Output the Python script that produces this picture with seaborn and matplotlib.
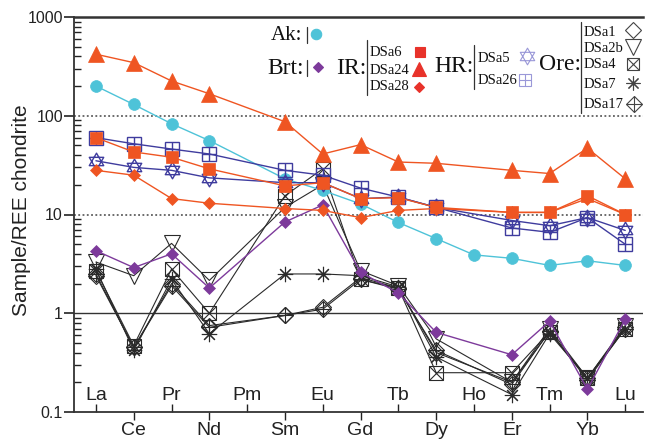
import numpy as np
import pandas as pd
import seaborn as sns
import matplotlib
matplotlib.use("Agg")
import matplotlib.pyplot as plt
from matplotlib.lines import Line2D
from matplotlib.path import Path
from matplotlib.ticker import LogLocator, NullFormatter

sns.set_theme(style="ticks")
plt.rcParams['font.family'] = ['Liberation Sans', 'DejaVu Sans']

nan = np.nan
elements = ['La', 'Ce', 'Pr', 'Nd', 'Pm', 'Sm', 'Eu', 'Gd', 'Tb', 'Dy', 'Ho', 'Er', 'Tm', 'Yb', 'Lu']

# chondrite-normalised values, NaN = not analysed
ak    = [200, 130, 83, 56, nan, 23, 17.5, 12.8, 8.3, 5.7, 3.9, 3.6, 3.05, 3.4, 3.05]
brt   = [4.3, 2.9, 4.0, 1.8, nan, 8.4, 12.5, 2.6, 1.6, 0.64, nan, 0.38, 0.83, 0.17, 0.87]
dsa6  = [60, 43, 38, 29, nan, 19.5, 21, 14.5, 14.8, 11.8, nan, 10.5, 10.5, 15.5, 10]
dsa24 = [420, 345, 225, 167, nan, 87, 41, 51, 34, 33, nan, 28, 26, 47, 23]
dsa28 = [28, 25, 14.5, 13, nan, 11.5, 11, 9.3, 11, 11.5, nan, 10.5, 10.5, 14.5, 10]
dsa5  = [35, 30, 28, 23.5, nan, 21, 21, 14.5, 15, 11.8, nan, 8.7, 7.7, 9.3, 6.9]
dsa26 = [60, 52, 46, 41, nan, 28, 25, 18.5, 15, 11.8, nan, 7.3, 6.6, 9.3, 5.0]
dsa1  = [2.4, 0.45, 2.0, 0.75, nan, 0.95, 1.15, 2.3, 1.8, 0.4, nan, 0.2, 0.65, 0.22, 0.72]
dsa2b = [3.3, 2.4, 5.1, 2.15, nan, 11.8, 20, 2.7, 1.9, 0.55, nan, 0.2, 0.7, 0.22, 0.75]
dsa4  = [2.7, 0.47, 2.8, 1.0, nan, 15.5, 29, 2.2, 1.8, 0.25, nan, 0.25, 0.65, 0.22, 0.7]
dsa7  = [2.8, 0.42, 2.2, 0.62, nan, 2.5, 2.5, 2.4, 1.85, 0.36, nan, 0.15, 0.62, 0.22, 0.7]
dsa17 = [2.5, 0.45, 1.9, 0.72, nan, 0.95, 1.1, 2.2, 1.75, 0.42, nan, 0.19, 0.66, 0.21, 0.7]

c_ak, c_brt, c_ir, c_hr, c_ore = '#4EC3D8', '#7D3A9B', '#EF5522', '#3F3C9E', '#2a2a2a'

hexagram = Path([(0, 1), (-0.866, -0.5), (0.866, -0.5), (0, 1),
                 (0, -1), (-0.866, 0.5), (0.866, 0.5), (0, -1)],
                [Path.MOVETO, Path.LINETO, Path.LINETO, Path.CLOSEPOLY,
                 Path.MOVETO, Path.LINETO, Path.LINETO, Path.CLOSEPOLY])

fig = plt.figure(figsize=(6.45, 4.44), dpi=100)
ax = fig.add_axes([74 / 645, 1 - 412 / 444, 569 / 645, 395 / 444])

ax.axhline(100, color='#444', lw=1.1, ls=(0, (1.2, 1.6)), zorder=1)
ax.axhline(10, color='#444', lw=1.1, ls=(0, (1.2, 1.6)), zorder=1)
ax.axhline(1, color='#333', lw=1.0, zorder=1)

xpos = np.arange(len(elements))


def draw(vals, color, marker, ms, filled=True, mew=1.0, lw=1.0, extra=None, extra_ms=None):
    d = pd.DataFrame({'x': xpos, 'y': vals}).dropna()
    sns.lineplot(data=d, x='x', y='y', ax=ax, color=color, lw=lw, marker=marker, ms=ms,
                 mfc=color if filled else 'none', mec=color, mew=mew,
                 estimator=None, errorbar=None, zorder=3)
    if extra is not None:
        sns.lineplot(data=d, x='x', y='y', ax=ax, color=color, ls='none', marker=extra,
                     ms=extra_ms or ms, mec=color, mew=mew,
                     estimator=None, errorbar=None, zorder=3)


# ore samples
draw(dsa1, c_ore, 'D', 8.5, filled=False, mew=0.8, lw=0.8)
draw(dsa17, c_ore, 'D', 8.5, filled=False, mew=0.8, lw=0.8, extra='+', extra_ms=12)
draw(dsa2b, c_ore, 'v', 12, filled=False, mew=0.8, lw=0.8)
draw(dsa4, c_ore, 's', 10, filled=False, mew=0.8, lw=0.8, extra='x', extra_ms=10)
draw(dsa7, c_ore, (8, 2, 0), 11, filled=False, mew=0.8, lw=0.8)
# barite and akaganeite-type
draw(brt, c_brt, 'D', 6.5, mew=0.5)
draw(ak, c_ak, 'o', 8.5, mew=0.5)
# HR
draw(dsa5, c_hr, hexagram, 12, filled=False, mew=1.0)
draw(dsa26, c_hr, 's', 9.5, filled=False, mew=1.0, extra='+', extra_ms=9.5)
# IR
draw(dsa28, c_ir, 'D', 6.5, mew=0.5)
draw(dsa6, c_ir, 's', 9, mew=0.5)
draw(dsa24, c_ir, '^', 11, mew=0.5)

ax.set_yscale('log')
ax.set_ylim(0.1, 1000)
ax.set_xlim(-0.58, 14.47)
ax.set_yticks([0.1, 1, 10, 100, 1000], labels=['0.1', '1', '10', '100', '1000'])
ax.yaxis.set_minor_locator(LogLocator(base=10, subs=np.arange(2, 10)))
ax.yaxis.set_minor_formatter(NullFormatter())
ax.tick_params(axis='y', which='major', direction='out', length=7, width=1.2, pad=1,
               labelsize=11.5, colors='#222')
ax.tick_params(axis='y', which='minor', direction='in', length=5, width=1.0, color='#222')

odd = xpos[1::2]
even = xpos[0::2]
ax.set_xticks(odd, labels=[elements[i] for i in odd])
ax.set_xticks(even, labels=[elements[i] for i in even], minor=True)
ax.tick_params(axis='x', which='major', direction='out', length=6, width=1.0, pad=1.5,
               labelsize=14, colors='#222')
ax.tick_params(axis='x', which='minor', direction='in', length=6, width=1.0, pad=-18,
               labelsize=14, colors='#222')

ax.set_xlabel('')
ax.set_ylabel('Sample/REE chondrite', fontsize=15, color='#222')
ax.yaxis.set_label_coords(-0.075, 0.51)

for side in ['left', 'bottom', 'top']:
    ax.spines[side].set_color('#333')
    ax.spines[side].set_linewidth(1.3)
ax.spines['top'].set_linewidth(1.8)
ax.spines['right'].set_visible(False)

# ---- legend, laid out by hand ----
serif = ['Liberation Serif', 'DejaVu Serif']


def fx(x):
    return x / 645


def fy(y):
    return 1 - y / 444


def label(x, y, s, size):
    fig.text(fx(x), fy(y), s, family=serif, fontsize=size, va='center', ha='left', color='#111')


def bar(x, y0, y1):
    fig.add_artist(Line2D([fx(x), fx(x)], [fy(y0), fy(y1)], transform=fig.transFigure,
                          color='#333', lw=0.9))


def mark(x, y, marker, ms, color, filled=True, mew=0.8):
    fig.add_artist(Line2D([fx(x)], [fy(y)], transform=fig.transFigure, marker=marker, ms=ms,
                          mfc=color if filled else 'none', mec=color, mew=mew, ls='none'))


label(271, 35, 'Ak:', 15)
bar(307, 27, 43)
mark(316, 34, 'o', 7.5, c_ak)

label(267, 68, 'Brt:', 17)
bar(307, 60, 76)
mark(318, 67, 'D', 5.5, c_brt)

ir_col = '#E8322A'
label(336, 68, 'IR:', 17)
bar(367, 40, 95)
label(370, 52, 'DSa6', 10.5)
mark(420, 52, 's', 7.5, ir_col)
label(370, 70, 'DSa24', 10.5)
mark(419, 69, '^', 10, ir_col)
label(370, 87, 'DSa28', 10.5)
mark(419, 87, 'D', 5.5, ir_col)

hr_leg = '#9A98D8'
label(434, 67, 'HR:', 17)
bar(474, 45, 89)
label(478, 58, 'DSa5', 10.5)
mark(527, 56, hexagram, 12, hr_leg, filled=False)
label(478, 80, 'DSa26', 10.5)
mark(525, 80, 's', 8, hr_leg, filled=False)
mark(525, 80, '+', 8, hr_leg)

ore_leg = '#444'
label(539, 64, 'Ore:', 17)
bar(581, 22, 113)
label(584, 32, 'DSa1', 10.5)
mark(633, 30, 'D', 8.5, ore_leg, filled=False)
label(584, 48, 'DSa2b', 10.5)
mark(633, 47, 'v', 11, ore_leg, filled=False)
label(584, 65, 'DSa4', 10.5)
mark(633, 64, 's', 9, ore_leg, filled=False)
mark(633, 64, 'x', 9, ore_leg)
label(584, 84, 'DSa7', 10.5)
mark(633, 83, (8, 2, 0), 10, ore_leg, filled=False)
label(584, 104, 'DSa17', 10.5)
mark(634, 104, 'D', 8.5, ore_leg, filled=False)
mark(634, 104, '+', 12, ore_leg)

fig.savefig('out.png', dpi=100)
